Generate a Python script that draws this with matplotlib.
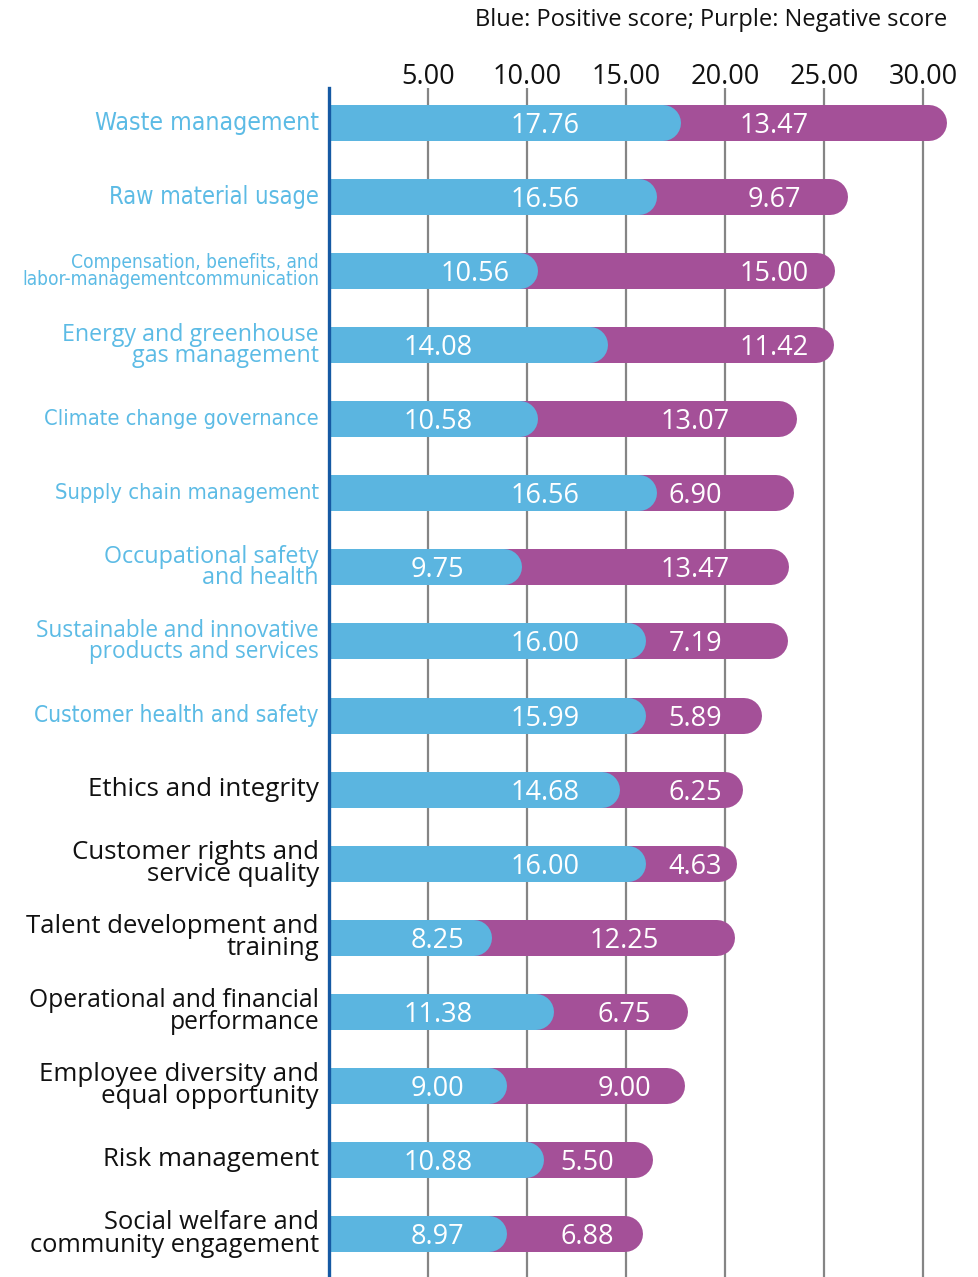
import matplotlib
matplotlib.use("Agg")
import matplotlib.pyplot as plt
from matplotlib.font_manager import fontManager, FontProperties, weight_dict

categories = [
    "Waste management",
    "Raw material usage",
    "Compensation, benefits, and\nlabor-managementcommunication",
    "Energy and greenhouse\ngas management",
    "Climate change governance",
    "Supply chain management",
    "Occupational safety\nand health",
    "Sustainable and innovative\nproducts and services",
    "Customer health and safety",
    "Ethics and integrity",
    "Customer rights and\nservice quality",
    "Talent development and\ntraining",
    "Operational and financial\nperformance",
    "Employee diversity and\nequal opportunity",
    "Risk management",
    "Social welfare and\ncommunity engagement",
]
positive = [17.76, 16.56, 10.56, 14.08, 10.58, 16.56, 9.75, 16.00,
            15.99, 14.68, 16.00, 8.25, 11.38, 9.00, 10.88, 8.97]
negative = [13.47, 9.67, 15.00, 11.42, 13.07, 6.90, 13.47, 7.19,
            5.89, 6.25, 4.63, 12.25, 6.75, 9.00, 5.50, 6.88]
ticks = [5, 10, 15, 20, 25, 30]
tick_labels = ["5.00", "10.00", "15.00", "20.00", "25.00", "30.00"]

# layout: x-positions (data units) where the value labels sit
pos_label_x = [10.9, 10.9, 7.4, 5.5, 5.5, 10.9, 5.5, 10.9,
               10.9, 10.9, 10.9, 5.5, 5.5, 5.5, 5.5, 5.5]
neg_label_x = [22.5, 22.5, 22.5, 22.5, 18.5, 18.5, 18.5, 18.5,
               18.5, 18.5, 18.5, 14.9, 14.9, 14.9, 13.05, 13.05]
# layout: pixel width of the widest line of each category label
label_px_width = [225, 212, 298, 258, 276, 266, 215, 284,
                  285, 231, 247, 293, 290, 280, 217, 291]
condensed = [True, True, True, False, True, True, False, False,
             True, False, False, False, False, False, False, False]
n_colored = 9

BLUE = "#5bb5e0"
PURPLE = "#a45098"
LABEL_BLUE = "#5cbbe5"
SPINE = "#1559a3"
GRID = "#858585"

avail = {f.name for f in fontManager.ttflist}
FONT = "Open Sans" if "Open Sans" in avail else "DejaVu Sans"
plt.rcParams["font.family"] = [FONT, "DejaVu Sans"]


def _w(x):
    return weight_dict.get(x, 400) if isinstance(x, str) else int(x)


def _is_condensed(f):
    s = f.stretch
    if isinstance(s, str):
        return s in ("condensed", "semi-condensed", "extra-condensed",
                     "ultra-condensed")
    return s < 500


# pick a non-bold, upright, condensed face if one is installed
narrow_prop = None
best = None
for f in fontManager.ttflist:
    if f.style != "normal":
        continue
    is_narrow = _is_condensed(f) or any(k in f.name for k in
                                        ("Condensed", "Narrow"))
    if not is_narrow:
        continue
    wt = _w(f.weight)
    if wt > 450:
        continue
    score = abs(wt - 350)
    if best is None or score < best[0]:
        best = (score, f.fname)
if best is not None:
    narrow_prop = FontProperties(fname=best[1])

W, H, DPI = 979, 1277, 100
fig = plt.figure(figsize=(W / DPI, H / DPI), dpi=DPI)

ax_left, ax_right, ax_top, ax_bottom = 329, 975, 88, 1277
ax = fig.add_axes([ax_left / W, 1 - ax_bottom / H,
                   (ax_right - ax_left) / W, (ax_bottom - ax_top) / H])
px_per_unit = 19.8
xmax = (ax_right - ax_left) / px_per_unit
ax.set_xlim(0, xmax)
row_px = 74.07
first_px = 123
ax.set_ylim((ax_bottom - first_px) / row_px, -(first_px - ax_top) / row_px)

bar_px = 36
lw_pt = bar_px * 72 / DPI
r_units = (bar_px / 2) / px_per_unit

ax.set_xticks(ticks)
ax.set_xticklabels(tick_labels, fontsize=19.5, color="#111111")
ax.xaxis.tick_top()
ax.tick_params(axis="x", length=0, pad=-2)
ax.set_yticks([])
for s in ["top", "right", "bottom"]:
    ax.spines[s].set_visible(False)
ax.spines["left"].set_color(SPINE)
ax.spines["left"].set_linewidth(2.4)
ax.spines["left"].set_zorder(5)
for t in ticks:
    ax.axvline(t, color=GRID, lw=1.6, zorder=0)

label_texts = []
for i, (p, q) in enumerate(zip(positive, negative)):
    total = p + q
    ax.plot([-5, total - r_units], [i, i], color=PURPLE, lw=lw_pt,
            solid_capstyle="round", zorder=2)
    ax.plot([-5, p - r_units], [i, i], color=BLUE, lw=lw_pt,
            solid_capstyle="round", zorder=3)
    ax.text(pos_label_x[i], i + 0.04, f"{p:.2f}", color="white", fontsize=19.5,
            ha="center", va="center", zorder=4)
    ax.text(neg_label_x[i], i + 0.04, f"{q:.2f}", color="white", fontsize=19.5,
            ha="center", va="center", zorder=4)
    color = LABEL_BLUE if i < n_colored else "#111111"
    kw = dict(color=color, ha="right", va="center", linespacing=0.85,
              clip_on=False)
    if condensed[i] and narrow_prop is not None:
        fp = narrow_prop.copy()
        fp.set_size(18.5)
        t = ax.text(-10 / px_per_unit, i, categories[i], fontproperties=fp, **kw)
    else:
        t = ax.text(-10 / px_per_unit, i, categories[i], fontsize=18.5, **kw)
    label_texts.append(t)

fig.text(947 / W, 1 - 20 / H, "Blue: Positive score; Purple: Negative score",
         ha="right", va="center", fontsize=17, color="#111111")

# fit each category label to the width it has in the reference
fig.canvas.draw()
renderer = fig.canvas.get_renderer()
for t, target in zip(label_texts, label_px_width):
    w = t.get_window_extent(renderer).width
    t.set_fontsize(t.get_fontsize() * target / w)

fig.savefig("out.png", dpi=DPI)
